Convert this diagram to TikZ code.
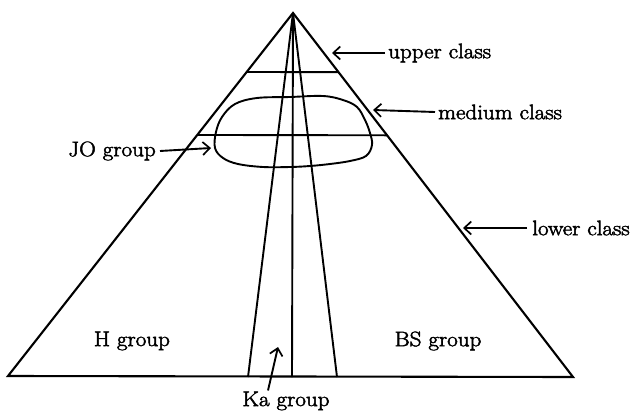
\documentclass[tikz,border=0pt]{standalone}
\usepackage{fontspec}
\setmainfont{Latin Modern Roman}[FakeBold=2.4,FakeStretch=1.1]
\usetikzlibrary{arrows.meta,calc}
\begin{document}
\begin{tikzpicture}[x=1pt,y=-1pt,
  edge/.style={line width=2.1pt,line join=miter},
  thin/.style={line width=1.9pt},
  lbl/.style={inner sep=0pt,font=\fontsize{21}{24}\selectfont},
  arr/.style={line width=1.9pt,-{Straight Barb[length=7pt,width=13pt,line width=1.7pt]}}]
\useasboundingbox (0,0) rectangle (632,415);
% main triangle
\coordinate (apex) at (293,13);
\coordinate (bl) at (8,376);
\coordinate (br) at (573,377);
\draw[edge] (apex) -- (bl) -- (br) -- cycle;
% class levels
\draw[thin] ($(apex)!0.1625!(bl)$) -- ($(apex)!0.1625!(br)$);
\draw[thin] ($(apex)!0.336!(bl)$) -- ($(apex)!0.336!(br)$);
% group lines
\coordinate (kl) at (248,377);
\coordinate (km) at (292,377);
\coordinate (kr) at (337,377);
\draw[thin] (apex) -- (kl);
\draw[thin] (apex) -- (km);
\draw[thin] (apex) -- (kr);
% JO blob
\draw[thin] plot[smooth cycle,tension=0.6] coordinates {
 (222,117) (235,104) (257,98) (290,97) (323,96) (343,100) (357,107)
 (365,120) (370,133) (372,145) (366,156) (350,161) (330,164) (310,166)
 (290,167) (263,167) (238,164) (223,158) (215,148) (216,132)};
% labels
\node[lbl,anchor=west] (up) at (388,53) {upper class};
\node[lbl,anchor=west] (med) at (438,112) {medium class};
\node[lbl,anchor=west] (low) at (532,228) {lower class};
\node[lbl,anchor=east] (jo) at (156,151) {JO group};
\node[lbl] (h) at (132,341) {H group};
\node[lbl] (bs) at (438,341) {BS group};
\node[lbl] (ka) at (286,401) {Ka group};
% arrows
\coordinate (upt) at (332,53);
\coordinate (medt) at (373,110);
\coordinate (lowt) at (463,228);
\coordinate (jot) at (211,148);
\coordinate (kat) at (278,347);
\draw[arr] (up.west) ++(-3,0) -- (upt);
\draw[arr] (med.west) ++(-3,0) -- (medt);
\draw[arr] (low.west) ++(-5,0) -- (lowt);
\draw[arr] (jo.east) ++(4,0) -- (jot);
\draw[arr] (ka.north) ++(-18,-1) -- (kat);
\end{tikzpicture}
\end{document}
